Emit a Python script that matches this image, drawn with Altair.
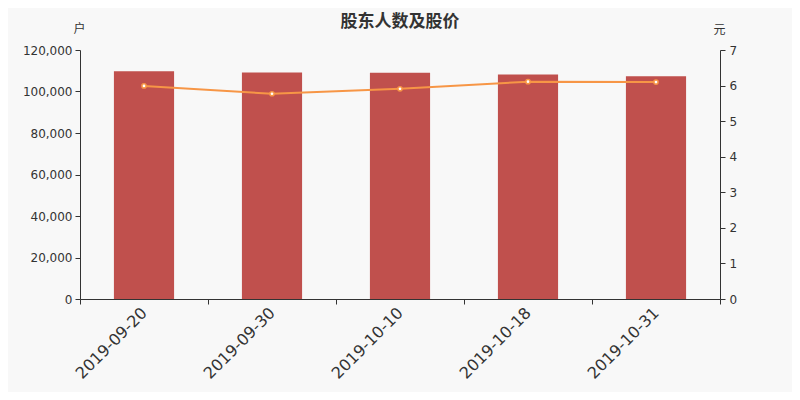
import altair as alt
import pandas as pd

dates = ["2019-09-20", "2019-09-30", "2019-10-10", "2019-10-18", "2019-10-31"]
holders = [109700, 109200, 109050, 108250, 107400]
prices = [5.99, 5.77, 5.91, 6.11, 6.10]

df = pd.DataFrame({"date": dates, "holders": holders, "price": prices})

AX = "#333333"
NUMFONT = "DejaVu Sans"
CJK = "Noto Sans CJK SC"

x = alt.X(
    "date:N",
    sort=dates,
    scale=alt.Scale(paddingInner=0, paddingOuter=0),
    axis=alt.Axis(
        title=None,
        labelAngle=-45,
        labelAlign="right",
        labelBaseline="middle",
        labelFontSize=16,
        labelPadding=6,
        labelFont=NUMFONT,
        labelColor=AX,
        tickBand="extent",
        tickSize=5,
        tickColor=AX,
        domainColor=AX,
        grid=False,
    ),
)

bars = alt.Chart(df).mark_bar(color="#c0504d", width=alt.RelativeBandSize(0.47)).encode(
    x=x,
    y=alt.Y(
        "holders:Q",
        scale=alt.Scale(domain=[0, 120000], nice=False),
        axis=alt.Axis(
            values=[0, 20000, 40000, 60000, 80000, 100000, 120000],
            format=",d",
            title="户",
            titleAngle=0,
            titleX=-1,
            titleY=-22,
            titleAlign="center",
            titleBaseline="middle",
            titleFont=CJK,
            titleFontSize=12,
            titleFontWeight="normal",
            titleColor=AX,
            labelFont=NUMFONT,
            labelFontSize=12,
            labelColor=AX,
            labelPadding=3,
            tickSize=5,
            tickColor=AX,
            domainColor=AX,
            grid=False,
        ),
    ),
)

price_axis = alt.Axis(
    orient="right",
    values=[0, 1, 2, 3, 4, 5, 6, 7],
    format="d",
    title="元",
    titleAngle=0,
    titleX=-1,
    titleY=-21,
    titleAlign="center",
    titleBaseline="middle",
    titleFont=CJK,
    titleFontSize=12,
    titleFontWeight="normal",
    titleColor=AX,
    labelFont=NUMFONT,
    labelFontSize=12,
    labelColor=AX,
    labelPadding=4,
    tickSize=5,
    tickColor=AX,
    domainColor=AX,
    grid=False,
)

line = alt.Chart(df).mark_line(
    color="#f79646",
    strokeWidth=2,
    point=alt.OverlayMarkDef(
        filled=True, fill="white", stroke="#f79646", strokeWidth=1.5, size=18, opacity=1
    ),
).encode(
    x=alt.X("date:N", sort=dates),
    y=alt.Y("price:Q", scale=alt.Scale(domain=[0, 7], nice=False), axis=price_axis),
)

chart = (
    alt.layer(bars, line)
    .resolve_scale(y="independent")
    .properties(
        width=640,
        height=249,
        autosize="none",
        padding={"left": 72, "top": 42, "right": 72, "bottom": 93},
        background="#f8f8f8",
        title=alt.TitleParams(
            "股东人数及股价",
            font=CJK,
            fontSize=17,
            fontWeight="bold",
            color=AX,
            anchor="middle",
            frame="group",
            offset=-9,
        ),
    )
    .configure_view(stroke=None)
)

chart.save("out.html", embed_options={"renderer": "svg", "actions": False})
